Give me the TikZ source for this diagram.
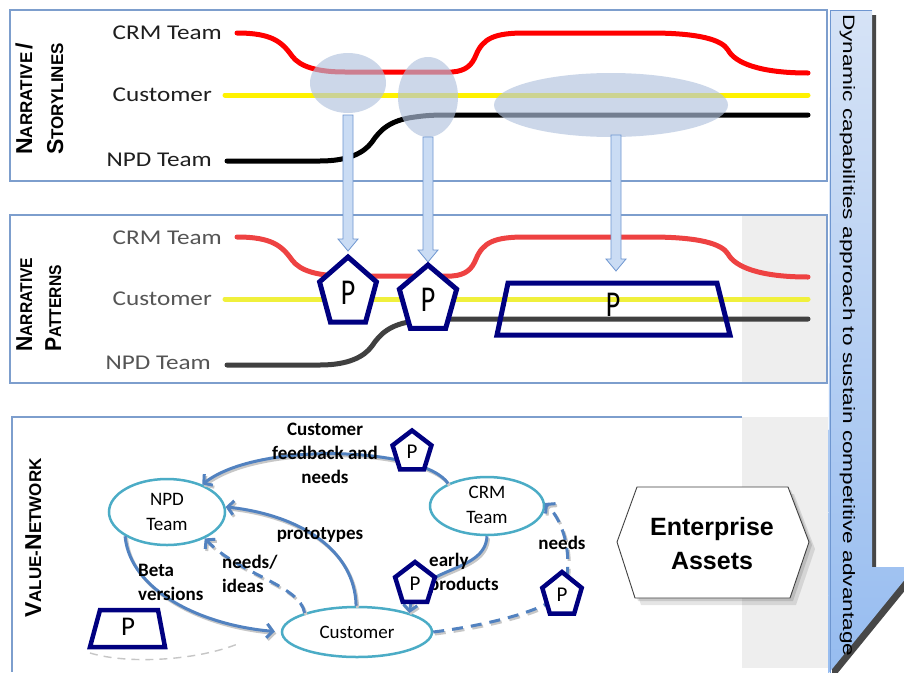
\documentclass[tikz,border=0pt]{standalone}
\usepackage{fontspec}
\setmainfont{Carlito}
\newfontfamily\arialfont{Liberation Sans}
\usetikzlibrary{arrows.meta,shapes.geometric}
\definecolor{panelblue}{RGB}{125,158,205}
\definecolor{netblue}{RGB}{82,130,192}
\definecolor{elcol}{RGB}{75,172,198}
\definecolor{navyp}{RGB}{0,0,128}
\definecolor{blobc}{RGB}{178,195,222}
\definecolor{barrowfill}{RGB}{202,220,244}
\definecolor{barrowline}{RGB}{110,150,208}
\definecolor{bandgray}{RGB}{238,238,238}
\definecolor{bigtop}{RGB}{214,227,246}
\definecolor{bigbot}{RGB}{150,188,240}
\definecolor{redB}{RGB}{238,66,66}
\definecolor{yellowB}{RGB}{240,240,60}
\definecolor{blackB}{RGB}{64,64,64}
\definecolor{txtB}{RGB}{85,85,85}
\newcommand{\fakesc}[2]{{\fontsize{23}{23}\selectfont #1}{\fontsize{17}{17}\selectfont #2}}
\newcommand{\storylines}[3]{%
  \draw[storyline,#1] (237,33) .. controls (272,33) and (282,42) .. (292,56) .. controls (300,67) and (318,72) .. (345,72) -- (452,72) .. controls (466,71) and (472,65) .. (476,55) .. controls (483,38) and (495,33) .. (525,33) -- (650,33) .. controls (700,33) and (722,40) .. (728,50) .. controls (735,63) and (760,73) .. (808,73);
  \draw[storyline,#2] (225,95) -- (808,95);
  \draw[storyline,#3] (227,161) -- (320,161) .. controls (348,161) and (364,153) .. (372,142) .. controls (380,130) and (390,120) .. (415,117) .. controls (428,115) and (440,115) .. (450,115) -- (808,115);
}
\newcommand{\pentP}[7]{%
  \begin{scope}[shift={(#2,#3)}, xscale=#5]
    \draw[pentline, line width=#6] (270:#4) -- (342:#4) -- (54:#4) -- (126:#4) -- (198:#4) -- cycle;
  \end{scope}
  \node[ptext] (#1) at (#2,#3) {#7};
}
\newcommand{\blockarrow}[3]{%
  \draw[barrow] (#1-5,#2) -- (#1+5,#2) -- (#1+5,#3-12) -- (#1+10,#3-12) -- (#1,#3) -- (#1-10,#3-12) -- (#1-5,#3-12) -- cycle;
}
\begin{document}
\begin{tikzpicture}[x=1pt,y=-1pt,
  panel/.style={draw=panelblue, line width=1.4pt},
  storyline/.style={line width=5pt, line cap=round},
  pentline/.style={draw=navyp, fill=white, line join=miter},
  ptext/.style={inner sep=0pt, text=black},
  barrow/.style={fill=barrowfill, draw=barrowline, line width=0.8pt},
  rowtext/.style={anchor=east, inner sep=0pt, font=\fontsize{21}{21}\selectfont},
  vlabel/.style={rotate=90, anchor=base west, inner sep=0pt, font=\arialfont\bfseries},
  ell/.style={ellipse, draw=elcol, line width=2.5pt, fill=white, inner sep=0pt},
  etext/.style={align=center, inner sep=0pt, font=\fontsize{19}{25}\selectfont},
  ltext/.style={inner sep=0pt, font=\bfseries\fontsize{19}{24}\selectfont},
  net/.style={draw=netblue, line width=3pt, -{Straight Barb[length=6pt,width=14pt]},
    preaction={draw=black!22, line width=3pt, transform canvas={shift={(1.5pt,-2pt)}}}},
  netdash/.style={draw=netblue, line width=3pt, -{Straight Barb[length=6pt,width=14pt]},
    dash pattern=on 11pt off 8pt,
    preaction={draw=black!22, line width=3pt, dash pattern=on 11pt off 8pt, transform canvas={shift={(1.5pt,-2pt)}}}},
  faint/.style={draw=gray!45, line width=1.4pt, dash pattern=on 8pt off 6pt}
]
\useasboundingbox (0,0) rectangle (904,672);
\clip (0,0) rectangle (904,672);
\fill[white] (0,0) rectangle (904,672);

% gray bands
\fill[bandgray] (742,215) rectangle (827,383);
\fill[bandgray] (742,417) rectangle (828,668);

% panels
\draw[panel] (10,10) rectangle (827,181);
\draw[panel] (10,215) rectangle (827,383);
\draw[panel] (742,417) -- (12,417) -- (12,672);

% big arrow at the right
\fill[black!72] (834,15) -- (876,15) -- (876,572) -- (920,572) -- (832,680) -- cycle;
\shade[top color=bigtop, bottom color=bigbot] (830,10) -- (872,10) -- (872,567) -- (915,567) -- (828,674) -- cycle;
\draw[barrowline, line width=0.8pt] (830,674) -- (830,10) -- (872,10);
\node[rotate=-90, anchor=base west, inner sep=0pt, font=\arialfont\fontsize{16.5}{16.5}\selectfont] (dyn) at (843,14)
  {\scalebox{1.37}[1]{Dynamic capabilities approach to sustain competitive advantage}};

% ---------- panel 1 ----------
\node[vlabel] (lab1a) at (32,155) {\fakesc{N}{ARRATIVE}~{\fontsize{23}{23}\selectfont/}};
\node[vlabel] (lab1b) at (63,155) {\fakesc{S}{TORYLINES}};
\node[rowtext, text=black!88] (crm1) at (222,33) {\scalebox{1.2}[1]{CRM Team}};
\node[rowtext, text=black!88] (cus1) at (212,95) {\scalebox{1.2}[1]{Customer}};
\node[rowtext, text=black!88] (npd1) at (212,160) {\scalebox{1.2}[1]{NPD Team}};
\storylines{red}{yellow}{black}
\fill[blobc, opacity=0.65] (348,83) ellipse [x radius=38, y radius=30];
\fill[blobc, opacity=0.65] (428,97) ellipse [x radius=30, y radius=40];
\fill[blobc, opacity=0.65] (611,105) ellipse [x radius=117, y radius=32];

% ---------- panel 2 ----------
\node[vlabel] (lab2a) at (32,352) {\scalebox{0.92}[1]{\fakesc{N}{ARRATIVE}}};
\node[vlabel] (lab2b) at (61,352) {\scalebox{0.92}[1]{\fakesc{P}{ATTERNS}}};
\node[rowtext, text=txtB] (crm2) at (222,238) {\scalebox{1.2}[1]{CRM Team}};
\node[rowtext, text=txtB] (cus2) at (212,299) {\scalebox{1.2}[1]{Customer}};
\node[rowtext, text=txtB] (npd2) at (211,363) {\scalebox{1.2}[1]{NPD Team}};
\begin{scope}[shift={(0,204)}]
\storylines{redB}{yellowB}{blackB}
\end{scope}

% block arrows from storylines to patterns
\blockarrow{348}{115}{251}
\blockarrow{428}{137}{262}
\blockarrow{616}{135}{271}

\pentP{pa}{348}{293}{36}{0.83}{5pt}{\fontsize{28}{28}\selectfont\scalebox{1}[1.3]{P}}
\pentP{pb}{428}{300}{35}{0.86}{5pt}{\fontsize{28}{28}\selectfont\scalebox{1}[1.3]{P}}
\draw[draw=navyp, line width=5pt, line join=miter] (508,283) -- (717,283) -- (730,335) -- (497,335) -- cycle;
\node[ptext] (pc) at (613,305) {\fontsize{28}{28}\selectfont\scalebox{1}[1.3]{P}};

% ---------- panel 3 ----------
\node[vlabel] (lab3) at (41,618) {\fakesc{V}{ALUE-}\fakesc{N}{ETWORK}};

\draw[faint] (90,653) .. controls (130,665) and (200,660) .. (240,643);

\node[ell, minimum width=116pt, minimum height=66pt] (npd) at (167,512) {};
\node[ell, minimum width=114pt, minimum height=58pt] (crm) at (487,506) {};
\node[ell, minimum width=150pt, minimum height=50pt] (cust) at (357,632) {};
\node[etext] (npdt) at (167,512) {NPD\\Team};
\node[etext] (crmt) at (487,505) {CRM\\Team};
\node[etext] (custt) at (357,632) {Customer};

\draw[net] (crm.150) .. controls (425,448) and (260,440) .. (npd.38);
\draw[net] (cust.92) .. controls (355,550) and (300,515) .. (npd.5);
\draw[netdash] (cust.160) .. controls (300,585) and (240,575) .. (npd.-35);
\draw[net, shorten >=6pt] (npd.-150) .. controls (130,590) and (200,625) .. (cust.180);
\draw[net] (crm.-90) .. controls (485,575) and (415,565) .. (cust.20);
\draw[netdash] (cust.0) .. controls (490,625) and (545,610) .. (560,595) .. controls (572,580) and (572,530) .. (crm.3);

\node[ltext, align=center] (fb) at (325,453) {Customer\\feedback and\\needs};
\node[ltext] (proto) at (320,535) {prototypes};
\node[ltext, align=left, anchor=west] (ni) at (222,574) {needs/\\ideas};
\node[ltext, align=left, anchor=west] (bv) at (138,582) {Beta\\versions};
\node[ltext, align=left, anchor=west] (ep) at (429,573) {early\\products};
\node[ltext] (nd) at (562,543) {needs};

\pentP{pd}{412}{452}{21.5}{0.95}{4.5pt}{\fontsize{21}{21}\selectfont P}
\pentP{pe}{415}{584}{22}{0.95}{4.5pt}{\fontsize{21}{21}\selectfont P}
\pentP{pf}{562}{595}{23}{0.9}{4.5pt}{\fontsize{21}{21}\selectfont P}
\draw[draw=navyp, fill=white, line width=4.5pt, line join=miter] (100,610) -- (158,610) -- (165,647) -- (90,647) -- cycle;
\node[ptext] (pg) at (128,627) {\fontsize{27}{27}\selectfont P};

% enterprise assets
\fill[black, opacity=0.10] (623,549) -- (643,494) -- (794,494) -- (815,549) -- (796,605) -- (641,605) -- cycle;
\fill[black, opacity=0.12] (620,545) -- (640,490) -- (791,490) -- (812,545) -- (793,601) -- (638,601) -- cycle;
\draw[draw=black!75, fill=white, line width=0.9pt] (617,542) -- (637,487) -- (788,487) -- (809,542) -- (790,598) -- (635,598) -- cycle;
\node[align=center, inner sep=0pt, font=\arialfont\bfseries\fontsize{25}{34}\selectfont] (ea) at (712,544) {Enterprise\\Assets};
\end{tikzpicture}
\end{document}
